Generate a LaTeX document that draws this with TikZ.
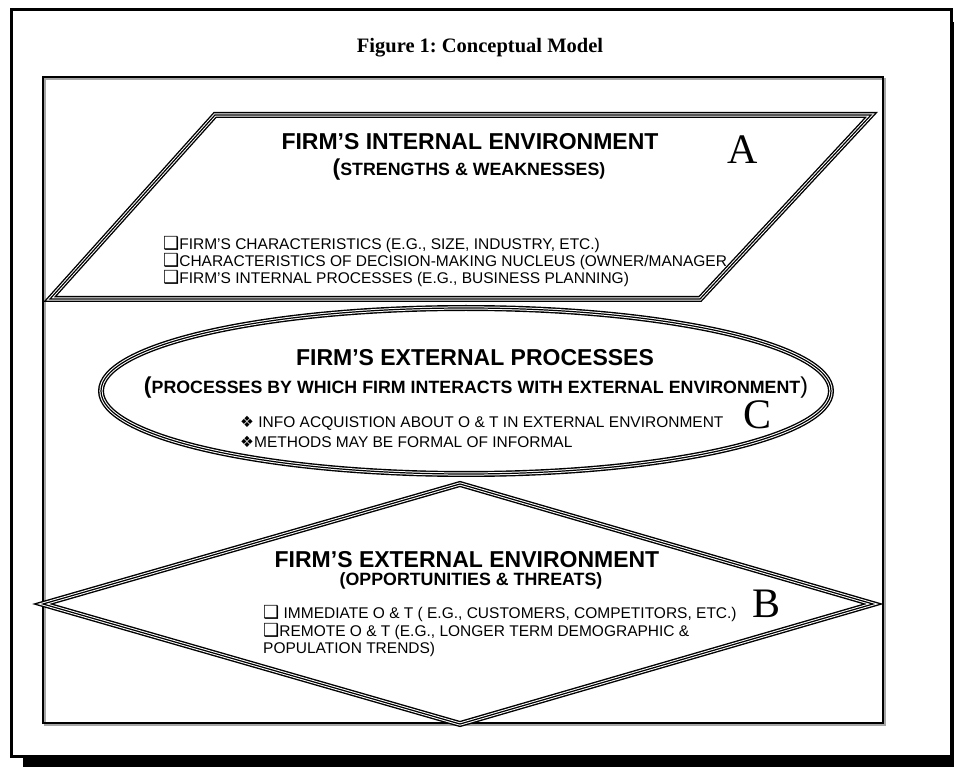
\documentclass[tikz,border=0pt]{standalone}
\usepackage{fontspec}
\setmainfont{Liberation Serif}
\setsansfont{Liberation Sans}
\newfontfamily\symfont{DejaVu Sans}
\frenchspacing

\newcommand\boxmark{{\symfont\fontsize{18}{18}\selectfont\char"2751}}
\newcommand\diamark{{\symfont\char"2756}}

\tikzset{
  triline/.style={draw=black, line width=6pt, line join=miter,
    postaction={draw=white, line width=3.2pt},
    postaction={draw=black, line width=1.2pt}},
  title/.style={font=\rmfamily\bfseries\fontsize{20.5}{24}\selectfont, inner sep=0pt},
  head/.style={font=\sffamily\bfseries\fontsize{23}{27}\selectfont, inner sep=0pt},
  sub/.style={font=\sffamily\bfseries\fontsize{17.8}{21}\selectfont, inner sep=0pt},
  item/.style={font=\sffamily\fontsize{15.5}{17}\selectfont, inner sep=0pt, anchor=base west},
  tag/.style={font=\rmfamily\fontsize{42}{44}\selectfont, inner sep=0pt}
}
\newcommand\bigparen[1]{{\fontsize{23}{27}\selectfont #1}}

\begin{document}
\begin{tikzpicture}[x=1pt, y=-1pt]
  \useasboundingbox (0,0) rectangle (954,767);

  % outer frame with its drop shadow
  \fill[black] (23,22) rectangle (970,775);
  \draw[line width=3pt, fill=white] (11,10) rectangle (951,756);

  % title
  \node[title] (fig) at (480,48) {Figure 1: Conceptual Model};

  % inner frame with a light shadow
  \draw[black!35, line width=2pt] (45,79) rectangle (885,725);
  \draw[line width=2pt] (43,77) rectangle (883,723);

  % A: internal environment (parallelogram)
  \draw[triline] (50,299) -- (215,115) -- (871,115) -- (700,299) -- cycle;
  \node[head] (ahead) at (470,142) {FIRM’S INTERNAL ENVIRONMENT};
  \node[sub] (asub) at (469,170) {\bigparen{(}STRENGTHS \& WEAKNESSES)};
  \node[tag] (alet) at (743,150) {A};
  \node[item] (a1) at (163,250) {\boxmark FIRM'S CHARACTERISTICS (E.G., SIZE, INDUSTRY, ETC.)};
  \node[item] (a2) at (163,267) {\boxmark CHARACTERISTICS OF DECISION-MAKING NUCLEUS (OWNER/MANAGER};
  \node[item] (a3) at (163,284) {\boxmark FIRM'S INTERNAL PROCESSES (E.G., BUSINESS PLANNING)};

  % C: external processes (ellipse)
  \draw[triline] (466,391) ellipse [x radius=365, y radius=83];
  \node[head] (chead) at (475,358) {FIRM’S EXTERNAL PROCESSES};
  \node[sub] (csub) at (476,388) {\bigparen{(}PROCESSES BY WHICH FIRM INTERACTS WITH EXTERNAL ENVIRONMENT{\mdseries\bigparen{)}}};
  \node[tag] (clet) at (758,415) {C};
  \node[item] (c1) at (240,427.5) {\diamark\ INFO ACQUISTION ABOUT O \& T IN EXTERNAL ENVIRONMENT};
  \node[item] (c2) at (240,447.5) {\diamark METHODS MAY BE FORMAL OF INFORMAL};

  % B: external environment (diamond)
  \draw[triline] (43,604) -- (460,484) -- (873,604) -- (460,724) -- cycle;
  \node[head] (bhead) at (467,560) {FIRM’S EXTERNAL ENVIRONMENT};
  \node[sub] (bsub) at (471,581) {(OPPORTUNITIES \& THREATS)};
  \node[tag] (blet) at (767,604) {B};
  \node[item] (b1) at (263,618.5) {\boxmark\ IMMEDIATE O \& T ( E.G., CUSTOMERS, COMPETITORS, ETC.)};
  \node[item] (b2) at (263,636) {\boxmark REMOTE O \& T (E.G., LONGER TERM DEMOGRAPHIC \&};
  \node[item] (b3) at (263,653.5) {POPULATION TRENDS)};
\end{tikzpicture}
\end{document}
